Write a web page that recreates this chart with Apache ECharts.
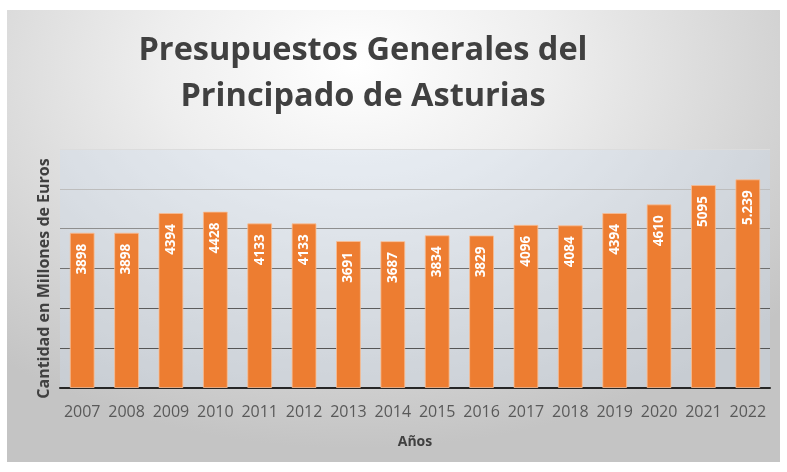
<!DOCTYPE html>
<html>
<head>
<meta charset="utf-8">
<script src="https://cdn.jsdelivr.net/npm/echarts@6/dist/echarts.min.js"></script>
<style>
html,body{margin:0;padding:0;background:#fff;}
#bg{position:absolute;left:7px;top:10px;width:773px;height:452px;
background:radial-gradient(ellipse 72% 85% at 45% 12%, #ffffff 0%, #eeeeee 35%, #d4d4d4 75%, #c4c4c4 100%);}
#main{position:absolute;left:0;top:0;width:787px;height:472px;}
</style>
</head>
<body>
<div id="bg"></div>
<div id="main"></div>
<script>
const categories = ['2007','2008','2009','2010','2011','2012','2013','2014','2015','2016','2017','2018','2019','2020','2021','2022'];
const values = [3898,3898,4394,4428,4133,4133,3691,3687,3834,3829,4096,4084,4394,4610,5095,5239];
const labelTexts = ['3898','3898','4394','4428','4133','4133','3691','3687','3834','3829','4096','4084','4394','4610','5095','5.239'];
const titleText = 'Presupuestos Generales del\nPrincipado de Asturias';
const yAxisName = 'Cantidad en Millones de Euros';
const xAxisName = 'Años';

const chart = echarts.init(document.getElementById('main'));
chart.setOption({
  animation:false,
  title:{
    text:titleText,
    left:358, top:23, textAlign:'center',
    textStyle:{fontFamily:'Open Sans',fontWeight:'bold',fontSize:32.5,color:'#404040',lineHeight:46}
  },
  grid:{left:60,right:17,top:149,bottom:84,show:true,backgroundColor:'rgba(205,222,238,0.35)',borderWidth:0},
  xAxis:{
    type:'category',data:categories,
    name:xAxisName,nameLocation:'middle',nameGap:47,
    nameTextStyle:{fontFamily:'Open Sans',fontWeight:'bold',fontSize:14,color:'#404040'},
    axisLine:{lineStyle:{color:'#262626',width:2}},
    axisTick:{show:false},
    axisLabel:{interval:0,fontFamily:'Open Sans',fontSize:16,color:'#595959',margin:16,letterSpacing:-0.4}
  },
  yAxis:{
    type:'value',min:0,max:6000,interval:1000,
    name:yAxisName,nameLocation:'middle',nameGap:8,
    nameTextStyle:{fontFamily:'Open Sans',fontWeight:'bold',fontSize:16,color:'#404040',padding:[0,20,0,0]},
    axisLabel:{show:false},axisLine:{show:false},axisTick:{show:false},
    splitLine:{lineStyle:{color:['#555555','#555555','#5c5c5c','#707070','#8e8e8e','#bdbdbd','#dcdcdc'],width:1}}
  },
  series:[{
    type:'bar',data:values,barWidth:'56%',
    itemStyle:{color:'#ED7D31',borderColor:'rgba(248,190,150,0.8)',borderWidth:1},
    label:{show:true,position:'insideTop',distance:11,rotate:90,align:'right',verticalAlign:'middle',
      color:'#ffffff',fontFamily:'Open Sans',fontWeight:'bold',fontSize:13.5,
      formatter:p=>labelTexts[p.dataIndex]}
  }]
});
</script>
</body>
</html>
